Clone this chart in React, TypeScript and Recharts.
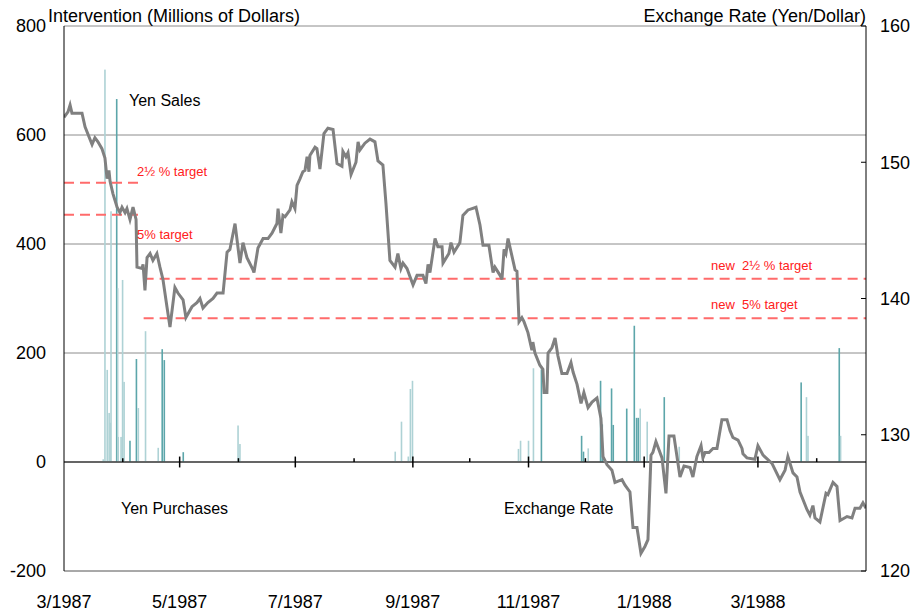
import {
  ComposedChart,
  Bar,
  Line,
  XAxis,
  YAxis,
  CartesianGrid,
  ReferenceLine,
  Cell,
} from 'recharts';

// x values are days counted from 1 March 1987
const monthTicks = [0, 61, 122, 184, 245, 306, 366];
const monthLabels = ['3/1987', '5/1987', '7/1987', '9/1987', '11/1987', '1/1988', '3/1988'];
const minorMonthTicks = [31, 92, 153, 214, 275, 337, 397];

const interventionTicks = [-200, 0, 200, 400, 600, 800];
const rateTicks = [120, 130, 140, 150, 160];

// [day, yen per dollar]
const exchangeRate: [number, number][] = [
  [0, 153.3], [2.1, 153.7], [3.2, 154.2], [4.2, 153.6], [9.5, 153.6], [11.1, 152.6], [14.8, 151.3],
  [16.3, 151.8], [17.9, 151.5], [20, 151.0], [21.6, 150.3], [22.7, 148.8], [23.7, 149.4], [24.3, 148.6],
  [25.8, 147.7], [28, 146.7], [29.5, 146.3], [30.6, 146.7], [32.2, 146.3], [33.2, 146.6], [34.8, 145.8],
  [36.4, 146.7], [38, 145.8], [38.5, 142.3], [41.1, 142.2], [41.7, 142.5], [42.7, 140.6], [43.8, 143.0],
  [45.4, 143.3], [46.9, 142.8], [49, 143.3], [50.6, 142.3], [52.2, 141.4], [54.3, 139.4], [55.9, 137.9],
  [58.5, 140.8], [60.1, 140.4], [62.8, 139.9], [64.3, 138.6], [67.5, 139.4], [70.1, 139.7], [71.7, 140.0],
  [73.3, 139.3], [75.9, 139.7], [78.6, 140.0], [80.7, 140.4], [83.9, 140.4], [86, 143.4], [87.5, 143.6],
  [90.2, 145.5], [92.8, 142.6], [94.4, 144.1], [96.5, 143.0], [99.7, 142.1], [100.2, 141.9], [102.3, 143.7],
  [105, 144.4], [107.6, 144.4], [109.7, 144.8], [112.3, 145.5], [112.9, 146.6], [114.4, 144.8], [115.5, 146.1],
  [116.6, 146.0], [119.2, 146.5], [120.2, 147.1], [121.8, 146.6], [122.9, 148.3], [124.5, 148.8], [126, 149.3],
  [127.1, 149.4], [128.2, 150.4], [129.2, 149.3], [129.7, 150.5], [132.4, 151.1], [133.4, 151.0], [135, 149.5],
  [137.1, 152.1], [139.2, 152.5], [141.9, 152.4], [144, 149.9], [146.6, 149.7], [147.1, 150.8], [148.7, 150.4],
  [149.8, 150.7], [151.4, 149.1], [154, 150.0], [155.1, 151.5], [156.1, 150.9], [158.7, 151.4], [161.4, 151.7],
  [164, 151.5], [165.6, 150.1], [168.2, 149.8], [169.8, 147.0], [171.9, 142.8], [174.6, 142.3], [176.1, 143.3],
  [177.7, 142.2], [178.8, 142.6], [180.9, 142.2], [182.5, 141.6], [184.1, 141.0], [186.2, 141.7], [189.3, 141.7],
  [190.9, 141.1], [192, 142.5], [193, 141.9], [195.7, 144.4], [197.2, 143.8], [199.4, 143.8], [199.9, 142.6],
  [203, 143.3], [204.1, 144.1], [205.7, 143.4], [208.8, 144.1], [210.4, 146.1], [213.1, 146.5], [215.2, 146.6],
  [217.3, 146.7], [219.4, 145.4], [221, 143.9], [224.1, 143.9], [226.3, 141.9], [227.3, 142.3], [230, 141.7],
  [231, 141.4], [232.1, 143.6], [233.1, 143.3], [234.2, 144.4], [237.9, 142.1], [238.9, 142.0], [240, 138.3],
  [241.5, 138.6], [242.6, 138.3], [244.7, 137.5], [246.8, 136.2], [247.3, 136.8], [248.4, 136.0], [251, 135.1],
  [252.6, 134.8], [253.2, 133.1], [254.7, 133.1], [255.3, 136.0], [257.4, 136.4], [259, 137.1], [260.5, 135.8],
  [262.6, 134.5], [265.3, 134.5], [267.4, 135.3], [268.5, 134.6], [270.6, 133.7], [272.7, 132.3], [274.2, 133.1],
  [276.4, 132.0], [278.5, 132.4], [281.1, 132.7], [283.2, 131.2], [284.3, 128.4], [286.4, 127.8], [289, 127.4],
  [290.6, 126.5], [294.3, 126.7], [295.9, 126.3], [298.5, 125.8], [300.1, 123.2], [302.2, 123.2], [304.3, 121.3],
  [306.4, 121.8], [308, 122.3], [309.6, 128.5], [310.6, 128.7], [312.2, 129.5], [315.4, 128.3], [317.5, 125.7],
  [319.1, 129.9], [321.7, 129.9], [324.9, 126.9], [327, 127.7], [330.2, 127.6], [331.7, 126.9], [333.8, 128.4],
  [336, 129.2], [337, 128.3], [338.1, 128.7], [340.2, 128.7], [342.3, 129.0], [344.4, 129.0], [347, 131.1],
  [349.7, 131.1], [351.3, 130.3], [352.8, 129.8], [355.5, 129.6], [357.6, 129.0], [358.1, 128.6], [360.2, 128.3],
  [364.4, 128.2], [366, 129.2], [368.7, 128.5], [373.4, 127.9], [377.6, 126.7], [380.3, 127.4], [381.8, 128.4],
  [384.5, 127.2], [386.6, 126.9], [388.2, 125.8], [391.9, 124.5], [393.4, 124.1], [395, 124.8], [396.1, 123.9],
  [398.7, 123.6], [401.9, 125.7], [402.9, 125.6], [405.6, 126.5], [407.7, 126.2], [409.3, 123.7], [413, 124.0],
  [415.6, 123.9], [417.2, 124.6], [419.8, 124.6], [421.4, 125.0], [423, 124.6],
];

// [day, millions of dollars], two shades of bars
const salesLight: [number, number][] = [
  [20.7, 5], [21.6, 720], [22.8, 169], [23.8, 90], [24.4, 72], [24.8, 460], [28.3, 319], [28.6, 46],
  [30.1, 46], [30.9, 334], [31.7, 147], [39.2, 99], [43, 240], [49.7, 26], [91.8, 67], [92.8, 33],
  [174.7, 19], [178, 74], [181.6, 10], [182.7, 134], [183.8, 149], [239.7, 24], [240.8, 39], [245, 39],
  [247.6, 172], [276.5, 25], [303.9, 98], [307.6, 74], [324.5, 28], [391.6, 119], [392.4, 48], [409.6, 48],
];
const salesDark: [number, number][] = [
  [27.8, 666], [34.8, 39], [38.2, 189], [51.8, 207], [52.9, 187], [62.9, 18], [251.8, 170], [273, 48],
  [274, 19], [283, 149], [283.9, 69], [288.8, 135], [289.7, 68], [296.8, 98], [300.8, 250], [302, 81],
  [302.9, 81], [316.6, 119], [388.8, 146], [408.9, 209],
];

const targets = [
  { rate: 148.5, from: 0, to: 42 },
  { rate: 146.15, from: 0, to: 42 },
  { rate: 141.45, from: 42, to: 423 },
  { rate: 138.55, from: 42, to: 423 },
];

const LIGHT = '#aed2d5';
const DARK = '#5ca6aa';
const GRID = '#8c8c8c';
const FONT = '"Liberation Sans", Arial, sans-serif';

type Row = { day: number; rate?: number; sales?: number; tone?: string };

const table: Row[] = [
  ...exchangeRate.map(([day, rate]) => ({ day, rate })),
  ...salesLight.map(([day, sales]) => ({ day, sales, tone: LIGHT })),
  ...salesDark.map(([day, sales]) => ({ day, sales, tone: DARK })),
].sort((a, b) => a.day - b.day);

// keeps each bar a thin spike centred on its date
function Spike(props: any) {
  const { x, y, width, height, fill } = props;
  if (!height || height <= 0) return null;
  const cx = x + width / 2;
  return <rect x={cx - 0.8} y={y} width={1.6} height={height} fill={fill} />;
}

const note = (left: number, top: number, size: number, color = '#000'): React.CSSProperties => ({
  position: 'absolute',
  left,
  top,
  fontSize: size,
  lineHeight: `${size + 2}px`,
  color,
  whiteSpace: 'pre',
});

export default function App() {
  return (
    <div
      style={{
        position: 'absolute',
        left: 0,
        top: 0,
        width: 922,
        height: 611,
        background: '#fff',
        fontFamily: FONT,
      }}
    >
      <ComposedChart width={922} height={611} data={table} margin={{ top: 26, right: 0, bottom: 0, left: 0 }}>
        <CartesianGrid yAxisId="left" vertical={false} stroke={GRID} strokeWidth={1} />
        <XAxis
          dataKey="day"
          type="number"
          domain={[0, 423]}
          allowDataOverflow
          ticks={monthTicks}
          tickFormatter={(v: number) => monthLabels[monthTicks.indexOf(v)] ?? ''}
          interval={0}
          height={40}
          axisLine={{ stroke: GRID }}
          tickLine={false}
          tickSize={8}
          tickMargin={16}
          tick={{ fill: '#000', fontSize: 18 }}
        />
        <YAxis
          yAxisId="left"
          width={64}
          domain={[-200, 800]}
          ticks={interventionTicks}
          interval={0}
          axisLine={{ stroke: '#000' }}
          tickLine={false}
          tickSize={14}
          tickMargin={4}
          tick={{ fill: '#000', fontSize: 18 }}
        />
        <YAxis
          yAxisId="right"
          orientation="right"
          width={56}
          domain={[120, 160]}
          ticks={rateTicks}
          interval={0}
          axisLine={{ stroke: '#000' }}
          tickLine={{ stroke: '#000' }}
          tickSize={-5}
          tickMargin={19}
          tick={{ fill: '#000', fontSize: 18 }}
        />
        <Bar yAxisId="left" dataKey="sales" shape={Spike} isAnimationActive={false}>
          {table.map((row, i) => (
            <Cell key={i} fill={row.tone ?? LIGHT} />
          ))}
        </Bar>
        <ReferenceLine yAxisId="left" y={0} stroke="#444" strokeWidth={1.5} />
        {monthTicks.slice(1).map((d) => (
          <ReferenceLine
            key={`M${d}`}
            yAxisId="left"
            segment={[{ x: d, y: -10 }, { x: d, y: 10 }]}
            stroke="#000"
            strokeWidth={1.5}
          />
        ))}
        {minorMonthTicks.map((d) => (
          <ReferenceLine
            key={`m${d}`}
            yAxisId="left"
            segment={[{ x: d, y: 0 }, { x: d, y: 7 }]}
            stroke="#000"
            strokeWidth={1.5}
          />
        ))}
        {targets.map((t, i) => (
          <ReferenceLine
            key={`t${i}`}
            yAxisId="right"
            segment={[{ x: t.from, y: t.rate }, { x: t.to, y: t.rate }]}
            stroke="#ff6b6b"
            strokeWidth={2}
            strokeDasharray="10 6"
          />
        ))}
        <Line
          yAxisId="right"
          dataKey="rate"
          type="linear"
          stroke="#808080"
          strokeWidth={3}
          dot={false}
          connectNulls
          isAnimationActive={false}
        />
      </ComposedChart>

      <div style={note(48, 6, 18)}>Intervention (Millions of Dollars)</div>
      <div style={{ ...note(0, 6, 18), left: 'auto', right: 56 }}>Exchange Rate (Yen/Dollar)</div>
      <div style={note(129, 92, 16)}>Yen Sales</div>
      <div style={note(121, 500, 16)}>Yen Purchases</div>
      <div style={note(504, 500, 16)}>Exchange Rate</div>
      <div style={note(137, 164, 13, '#ff2020')}>2½ % target</div>
      <div style={note(137, 227, 13, '#ff2020')}>5% target</div>
      <div style={note(711, 258, 13, '#ff2020')}>new  2½ % target</div>
      <div style={note(711, 297, 13, '#ff2020')}>new  5% target</div>
    </div>
  );
}
